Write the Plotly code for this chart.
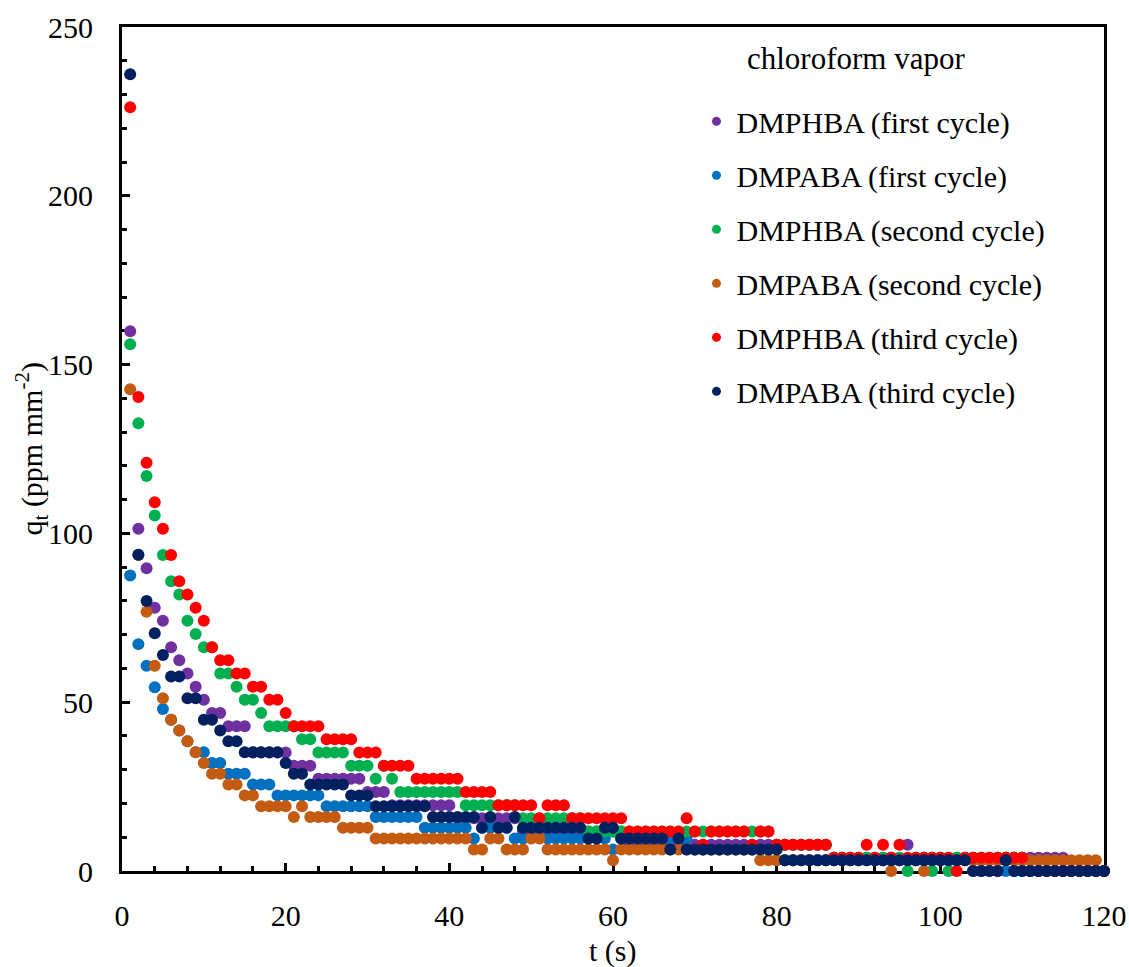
import plotly.graph_objects as go

t = list(range(1, 121))

names = ["DMPHBA (first cycle)", "DMPABA (first cycle)", "DMPHBA (second cycle)",
         "DMPABA (second cycle)", "DMPHBA (third cycle)", "DMPABA (third cycle)"]
colors = ["#7030A0", "#0070C0", "#00B050", "#C55A11", "#FF0000", "#002060"]

dmphba_1 = [159.9, 101.4, 89.7, 78.0, 74.1, 66.3, 62.4, 58.5, 54.6, 50.7,
            46.8, 46.8, 42.9, 42.9, 42.9, 35.1, 35.1, 35.1, 35.1, 35.1,
            31.2, 31.2, 31.2, 27.3, 27.3, 27.3, 27.3, 27.3, 27.3, 23.4,
            23.4, 23.4, 19.5, 19.5, 19.5, 19.5, 19.5, 19.5, 19.5, 19.5,
            15.6, 15.6, 15.6, 15.6, 15.6, 15.6, 15.6, 15.6, 11.7, 11.7,
            11.7, 11.7, 11.7, 11.7, 11.7, 11.7, 11.7, 11.7, 11.7, 11.7,
            11.7, 7.8, 7.8, 7.8, 7.8, 7.8, 7.8, 7.8, 7.8, 7.8,
            7.8, 7.8, 7.8, 7.8, 7.8, 7.8, 7.8, 7.8, 7.8, 7.8,
            7.8, 7.8, 7.8, 7.8, 7.8, 7.8, 3.9, 3.9, 3.9, 3.9,
            3.9, 3.9, 3.9, 3.9, 3.9, 7.8, 3.9, 3.9, 3.9, 3.9,
            3.9, 3.9, 3.9, 3.9, 3.9, 3.9, 3.9, 3.9, 3.9, 3.9,
            3.9, 3.9, 3.9, 3.9, 3.9, 0.0, 0.0, 0.0, 0.0, 0.0]

dmpaba_1 = [87.5, 67.2, 60.8, 54.4, 48.0, 44.8, 41.6, 38.4, 35.2, 35.2,
            32.0, 32.0, 28.8, 28.8, 28.8, 25.6, 25.6, 25.6, 22.4, 22.4,
            22.4, 22.4, 22.4, 22.4, 19.2, 19.2, 19.2, 19.2, 19.2, 19.2,
            16.0, 16.0, 16.0, 16.0, 16.0, 16.0, 12.8, 12.8, 12.8, 12.8,
            12.8, 12.8, 9.6, 12.8, 12.8, 12.8, 12.8, 9.6, 9.6, 12.8,
            12.8, 9.6, 9.6, 9.6, 9.6, 9.6, 9.6, 9.6, 9.6, 6.4,
            9.6, 9.6, 9.6, 9.6, 9.6, 9.6, 9.6, 9.6, 9.6, 6.4,
            6.4, 6.4, 6.4, 6.4, 6.4, 6.4, 6.4, 6.4, 6.4, 3.2,
            3.2, 3.2, 3.2, 3.2, 3.2, 3.2, 3.2, 3.2, 3.2, 3.2,
            3.2, 3.2, 3.2, 3.2, 3.2, 3.2, 3.2, 3.2, 3.2, 3.2,
            3.2, 3.2, 3.2, 0.0, 0.0, 0.0, 0.0, 0.0, 0.0, 0.0,
            0.0, 0.0, 0.0, 0.0, 0.0, 0.0, 0.0, 0.0, 0.0, 0.0]

dmphba_2 = [156.0, 132.6, 117.0, 105.3, 93.6, 85.8, 81.9, 74.1, 70.2, 66.3,
            66.3, 58.5, 58.5, 54.6, 50.7, 50.7, 46.8, 42.9, 42.9, 42.9,
            42.9, 39.0, 39.0, 35.1, 35.1, 35.1, 35.1, 31.2, 31.2, 31.2,
            27.3, 31.2, 27.3, 23.4, 23.4, 23.4, 23.4, 23.4, 23.4, 23.4,
            23.4, 19.5, 19.5, 19.5, 19.5, 19.5, 19.5, 19.5, 15.6, 15.6,
            15.6, 15.6, 15.6, 15.6, 15.6, 15.6, 11.7, 11.7, 11.7, 11.7,
            11.7, 11.7, 11.7, 11.7, 11.7, 11.7, 11.7, 11.7, 11.7, 11.7,
            11.7, 11.7, 11.7, 11.7, 11.7, 11.7, 11.7, 11.7, 11.7, 7.8,
            7.8, 7.8, 7.8, 7.8, 7.8, 7.8, 3.9, 3.9, 3.9, 3.9,
            3.9, 3.9, 3.9, 3.9, 3.9, 0.0, 3.9, 3.9, 0.0, 3.9,
            0.0, 3.9, 3.9, 3.9, 3.9, 3.9, 3.9, 3.9, 3.9, 3.9,
            0.0, 0.0, 0.0, 0.0, 0.0, 0.0, 0.0, 0.0, 0.0, 0.0]

dmpaba_2 = [142.7, 93.6, 76.8, 60.8, 51.2, 44.8, 41.6, 38.4, 35.2, 32.0,
            28.8, 28.8, 25.6, 25.6, 22.4, 22.4, 19.2, 19.2, 19.2, 19.2,
            16.0, 19.2, 16.0, 16.0, 16.0, 16.0, 12.8, 12.8, 12.8, 12.8,
            9.6, 9.6, 9.6, 9.6, 9.6, 9.6, 9.6, 9.6, 9.6, 9.6,
            9.6, 9.6, 6.4, 6.4, 9.6, 9.6, 6.4, 6.4, 6.4, 9.6,
            9.6, 6.4, 6.4, 6.4, 6.4, 6.4, 6.4, 6.4, 6.4, 3.2,
            6.4, 6.4, 6.4, 6.4, 6.4, 6.4, 6.4, 6.4, 6.4, 6.4,
            6.4, 6.4, 6.4, 6.4, 6.4, 6.4, 6.4, 3.2, 3.2, 3.2,
            3.2, 3.2, 3.2, 3.2, 3.2, 3.2, 3.2, 3.2, 3.2, 3.2,
            3.2, 3.2, 3.2, 0.0, 3.2, 3.2, 3.2, 0.0, 3.2, 3.2,
            3.2, 3.2, 3.2, 3.2, 3.2, 3.2, 3.2, 3.2, 3.2, 3.2,
            3.2, 3.2, 3.2, 3.2, 3.2, 3.2, 3.2, 3.2, 3.2, 0.0]

dmphba_3 = [226.2, 140.4, 120.9, 109.2, 101.4, 93.6, 85.8, 81.9, 78.0, 74.1,
            66.3, 62.4, 62.4, 58.5, 58.5, 54.6, 54.6, 50.7, 50.7, 46.8,
            42.9, 42.9, 42.9, 42.9, 39.0, 39.0, 39.0, 39.0, 35.1, 35.1,
            35.1, 31.2, 31.2, 31.2, 31.2, 27.3, 27.3, 27.3, 27.3, 27.3,
            27.3, 23.4, 23.4, 23.4, 23.4, 19.5, 19.5, 19.5, 19.5, 19.5,
            15.6, 19.5, 19.5, 19.5, 15.6, 15.6, 15.6, 15.6, 15.6, 15.6,
            15.6, 11.7, 11.7, 11.7, 11.7, 11.7, 11.7, 11.7, 15.6, 11.7,
            7.8, 11.7, 11.7, 11.7, 11.7, 11.7, 7.8, 11.7, 11.7, 7.8,
            7.8, 7.8, 7.8, 7.8, 7.8, 7.8, 3.9, 3.9, 3.9, 3.9,
            7.8, 3.9, 7.8, 3.9, 7.8, 3.9, 3.9, 3.9, 3.9, 3.9,
            3.9, 0.0, 3.9, 3.9, 3.9, 3.9, 3.9, 3.9, 3.9, 3.9,
            0.0, 0.0, 0.0, 0.0, 0.0, 0.0, 0.0, 0.0, 0.0, 0.0]

dmpaba_3 = [236.0, 93.7, 80.0, 70.4, 64.0, 57.6, 57.6, 51.2, 51.2, 44.8,
            44.8, 41.6, 38.4, 38.4, 35.2, 35.2, 35.2, 35.2, 35.2, 32.0,
            28.8, 28.8, 25.6, 25.6, 25.6, 25.6, 25.6, 22.4, 22.4, 22.4,
            19.2, 19.2, 19.2, 19.2, 19.2, 19.2, 19.2, 16.0, 16.0, 16.0,
            16.0, 16.0, 16.0, 12.8, 16.0, 12.8, 12.8, 16.0, 12.8, 12.8,
            12.8, 12.8, 12.8, 12.8, 12.8, 12.8, 9.6, 9.6, 12.8, 12.8,
            9.6, 9.6, 9.6, 9.6, 9.6, 9.6, 6.4, 9.6, 6.4, 6.4,
            6.4, 6.4, 6.4, 6.4, 6.4, 6.4, 6.4, 6.4, 6.4, 6.4,
            3.2, 3.2, 3.2, 3.2, 3.2, 3.2, 3.2, 3.2, 3.2, 3.2,
            3.2, 3.2, 3.2, 3.2, 3.2, 3.2, 3.2, 3.2, 3.2, 3.2,
            3.2, 3.2, 3.2, 0.0, 0.0, 0.0, 0.0, 3.2, 0.0, 0.0,
            0.0, 0.0, 0.0, 0.0, 0.0, 0.0, 0.0, 0.0, 0.0, 0.0]

series = [dmphba_1, dmpaba_1, dmphba_2, dmpaba_2, dmphba_3, dmpaba_3]

x_ticks = [0, 20, 40, 60, 80, 100, 120]
y_ticks = [0, 50, 100, 150, 200, 250]

FONT = "Liberation Serif"

fig = go.Figure()
for name, col, ys in zip(names, colors, series):
    fig.add_trace(go.Scatter(
        x=t, y=ys, mode="markers", name=name, showlegend=False,
        marker=dict(size=12, color=col, line=dict(width=0)),
        cliponaxis=False,
    ))
# legend entries (smaller symbols, like the reference legend)
for i, (name, col) in enumerate(zip(names, colors)):
    fig.add_trace(go.Scatter(
        x=[None], y=[None], mode="markers", name=name, legendgroup=f"g{i}",
        marker=dict(size=9, color=col), showlegend=True,
    ))

axis_common = dict(
    showline=True, linewidth=3, linecolor="black", mirror=True,
    showgrid=False, zeroline=False,
    ticks="inside", ticklen=8, tickwidth=3, tickcolor="black",
    tickfont=dict(family=FONT, size=30, color="black"),
    layer="below traces",
)

fig.update_xaxes(
    range=[0, 120], tickmode="array", tickvals=x_ticks,
    ticktext=[str(v) for v in x_ticks],
    minor=dict(dtick=4, tick0=0, ticks="inside", ticklen=5, tickwidth=2.5,
               tickcolor="black", showgrid=False),
    ticklabelstandoff=16,
    **axis_common,
)
fig.update_yaxes(
    range=[0, 250], tickmode="array", tickvals=y_ticks,
    ticktext=[str(v) for v in y_ticks],
    minor=dict(dtick=10, tick0=0, ticks="inside", ticklen=5, tickwidth=2.5,
               tickcolor="black", showgrid=False),
    ticklabelstandoff=20,
    **axis_common,
)

fig.update_layout(
    width=1129, height=967,
    margin=dict(l=122, r=25, t=27, b=96, autoexpand=False),
    paper_bgcolor="white", plot_bgcolor="white",
    font=dict(family=FONT, size=30, color="black"),
    legend=dict(
        x=0.585, y=0.919, xanchor="left", yanchor="top",
        bgcolor="rgba(0,0,0,0)", borderwidth=0,
        font=dict(family=FONT, size=30, color="black"),
        tracegroupgap=12, itemsizing="trace",
    ),
    annotations=[
        dict(text="chloroform vapor", x=0.7473, y=0.963, xref="paper", yref="paper",
             xanchor="center", yanchor="middle", showarrow=False,
             font=dict(family=FONT, size=31, color="black")),
        dict(text="t (s)", x=0.5, y=-0.0945, xref="paper", yref="paper",
             xanchor="center", yanchor="middle", showarrow=False,
             font=dict(family=FONT, size=30, color="black")),
        dict(text="q<sub>t</sub> (ppm mm<sup>-2</sup>)", x=-0.0922, y=0.5,
             xref="paper", yref="paper", xanchor="center", yanchor="middle",
             textangle=-90, showarrow=False,
             font=dict(family=FONT, size=30, color="black")),
    ],
)

fig.write_html("out.html")
